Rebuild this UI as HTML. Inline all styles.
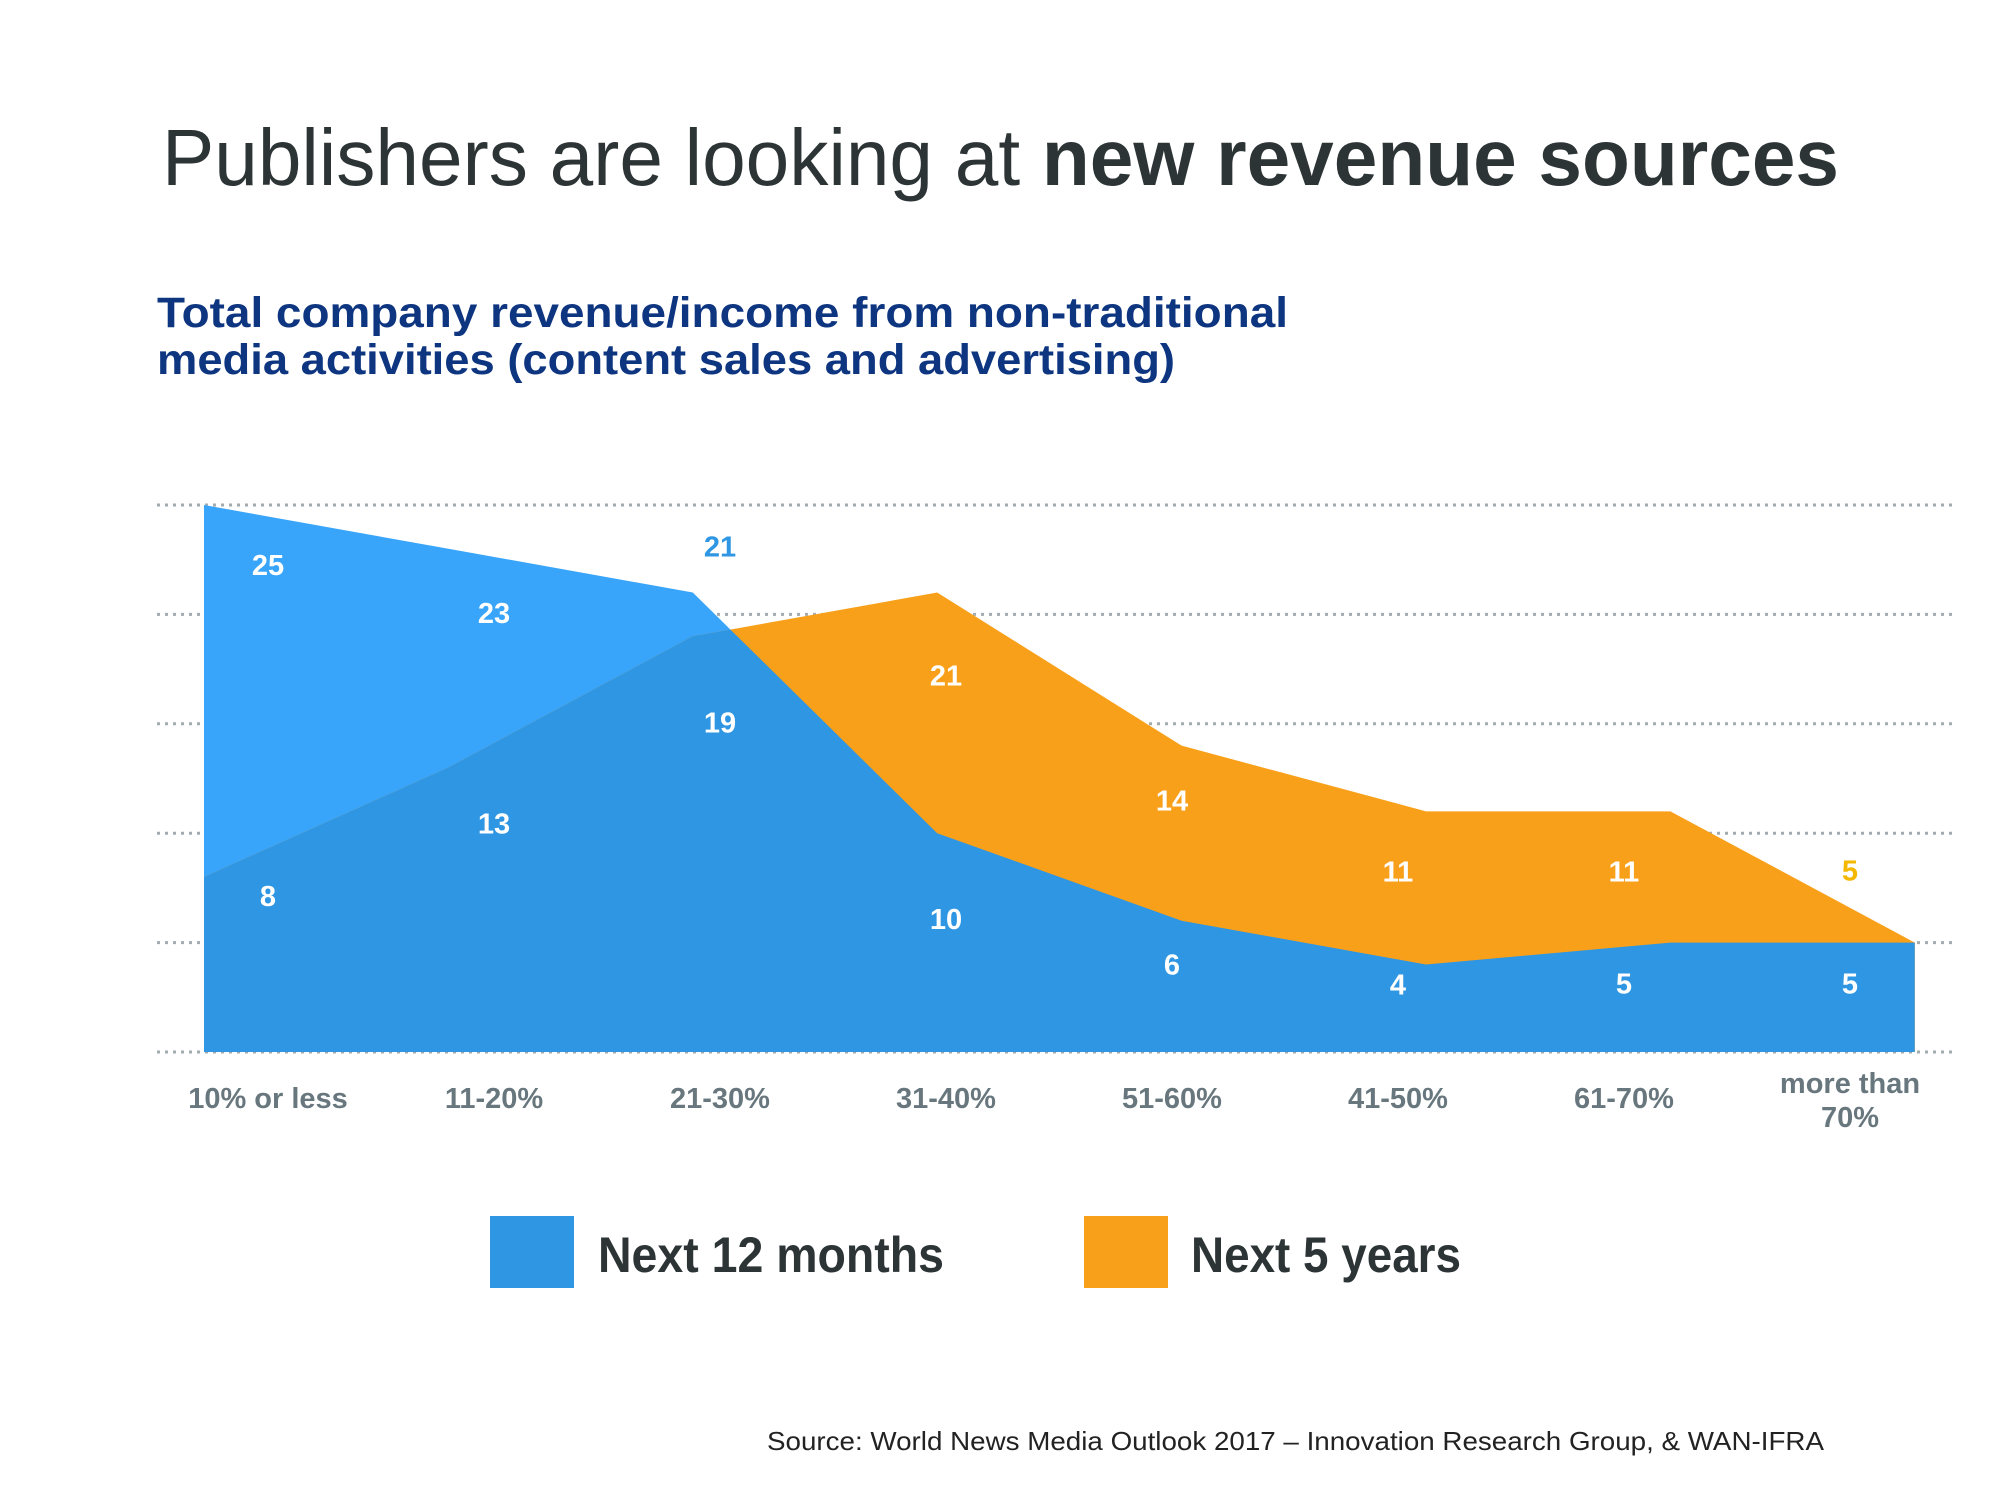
<!DOCTYPE html>
<html><head><meta charset="utf-8"><style>
html,body{margin:0;padding:0;background:#fff;}
svg{display:block;font-family:"Liberation Sans",sans-serif;}
</style></head><body>
<svg id="chart" width="2000" height="1500" viewBox="0 0 2000 1500" xmlns="http://www.w3.org/2000/svg">
  <rect width="2000" height="1500" fill="#fff"/>
  <text x="162" y="185" font-size="80" fill="#2d3436" textLength="1677" lengthAdjust="spacingAndGlyphs"><tspan font-weight="300">Publishers are looking at </tspan><tspan font-weight="bold">new revenue sources</tspan></text>
  <text x="157" y="327" font-size="43" font-weight="bold" fill="#0d3580" textLength="1131" lengthAdjust="spacingAndGlyphs">Total company revenue/income from non-traditional</text>
  <text x="157" y="374" font-size="43" font-weight="bold" fill="#0d3580" textLength="1018" lengthAdjust="spacingAndGlyphs">media activities (content sales and advertising)</text>
  <g id="grid"></g>
  <g id="areas"></g>
  <g id="labels"></g>
  <g id="xaxis"></g>
  <g>
    <rect x="490" y="1216" width="84" height="72" fill="#2e96e2"/>
    <text x="598" y="1272" font-size="50" font-weight="bold" fill="#2d3436" textLength="346" lengthAdjust="spacingAndGlyphs">Next 12 months</text>
    <rect x="1084" y="1216" width="84" height="72" fill="#f9a01b"/>
    <text x="1191" y="1272" font-size="50" font-weight="bold" fill="#2d3436" textLength="270" lengthAdjust="spacingAndGlyphs">Next 5 years</text>
  </g>
  <text x="767" y="1450" font-size="26" fill="#222" textLength="1057" lengthAdjust="spacingAndGlyphs">Source: World News Media Outlook 2017 – Innovation Research Group, &amp; WAN-IFRA</text>
</svg>
<script>
const categories = ["10% or less","11-20%","21-30%","31-40%","51-60%","41-50%","61-70%","more than 70%"];
const next12Months = [25,23,21,10,6,4,5,5];
const next5Years = [8,13,19,21,14,11,11,5];
const gridTicks = [0,5,10,15,20,25];
// layout-only nudges for label placement (pixels), not data
const nudge12 = [61,65,-45,87,45,21,42,42];
const nudge5 = [20,57,87,84,56,61,61,-71];

const NS = "http://www.w3.org/2000/svg";
const x0 = 204, xStep = 244.4, yBase = 1052, yMax = 25, yTop = 505;
const labX0 = 268, labStep = 226;
function xScale(i){ return x0 + i * xStep; }
function yScale(v){ return yBase - (v / yMax) * (yBase - yTop); }
function mk(tag, attrs){ const e = document.createElementNS(NS, tag); for (const k in attrs) e.setAttribute(k, attrs[k]); return e; }

const grid = document.getElementById('grid');
gridTicks.forEach(t => {
  const l = mk('line', {x1:157, x2:1955, y1:yScale(t), y2:yScale(t), stroke:'#a3abae', 'stroke-width':3, 'stroke-dasharray':'3 5'});
  
  
  grid.appendChild(l);
});

function areaPath(vals){
  let d = 'M' + xScale(0) + ',' + yBase;
  vals.forEach((v,i) => { d += ' L' + xScale(i) + ',' + yScale(v); });
  d += ' L' + xScale(vals.length-1) + ',' + yBase + ' Z';
  return d;
}
const areas = document.getElementById('areas');
const defs = mk('defs', {});
const cp = mk('clipPath', {id:'orangeClip'});
cp.appendChild(mk('path', {d: areaPath(next5Years)}));
defs.appendChild(cp);
areas.appendChild(defs);
const a1 = mk('path', {d: areaPath(next12Months), fill:'#38a5fb'});


areas.appendChild(a1);
const a2 = mk('path', {d: areaPath(next5Years), fill:'#f9a01b'});


areas.appendChild(a2);
const a3 = mk('path', {d: areaPath(next12Months), fill:'#2e96e2', 'clip-path':'url(#orangeClip)'});


areas.appendChild(a3);

const labels = document.getElementById('labels');
function addLabel(v, i, dy, fill, name){
  const t = mk('text', {x: labX0 + i*labStep, y: yScale(v) + dy, 'text-anchor':'middle', 'dominant-baseline':'central', 'font-size':29, 'font-weight':'bold', fill: fill});
  t.textContent = v;
  
  
  labels.appendChild(t);
}
next12Months.forEach((v,i) => addLabel(v, i, nudge12[i], nudge12[i] < 0 ? '#2e96e2' : '#fff', 'value-label-12-months'));
next5Years.forEach((v,i) => addLabel(v, i, nudge5[i], nudge5[i] < 0 ? '#f5b800' : '#fff', 'value-label-5-years'));

const xaxis = document.getElementById('xaxis');
categories.forEach((c,i) => {
  const t = mk('text', {x: labX0 + i*labStep, 'text-anchor':'middle', 'font-size':29, 'font-weight':'bold', fill:'#68777d'});
  if (c === 'more than 70%') {
    const s1 = mk('tspan', {x: labX0 + i*labStep, y: 1093}); s1.textContent = 'more than';
    const s2 = mk('tspan', {x: labX0 + i*labStep, y: 1127}); s2.textContent = '70%';
    t.appendChild(s1); t.appendChild(s2);
  } else {
    t.setAttribute('y', 1108);
    t.textContent = c;
  }
  
  
  xaxis.appendChild(t);
});
</script>
</body></html>
